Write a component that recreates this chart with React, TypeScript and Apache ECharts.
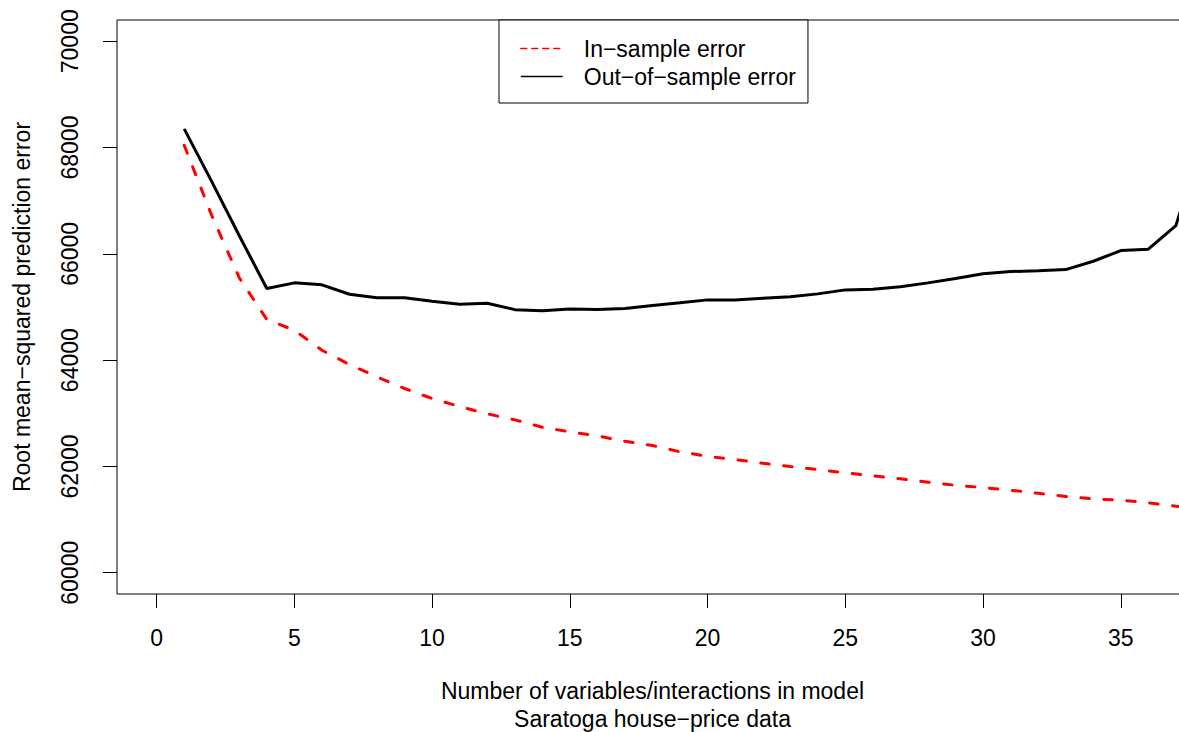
import React, { useEffect, useRef } from "react";
import * as echarts from "echarts";

const FONT = "'Liberation Sans', Arial, Helvetica, sans-serif";

const numVariables = [
  1, 2, 3, 4, 5, 6, 7, 8, 9, 10, 11, 12, 13, 14, 15, 16, 17, 18, 19, 20,
  21, 22, 23, 24, 25, 26, 27, 28, 29, 30, 31, 32, 33, 34, 35, 36, 37, 38,
];

const inSampleError = [
  68043, 66720, 65548, 64764, 64562, 64186, 63917, 63686, 63466, 63277,
  63127, 62990, 62877, 62738, 62651, 62575, 62474, 62393, 62275, 62192,
  62130, 62060, 61998, 61942, 61880, 61823, 61767, 61703, 61646, 61603,
  61552, 61496, 61434, 61390, 61364, 61315, 61251, 61200,
];

const outOfSampleError = [
  68352, 67360, 66340, 65347, 65454, 65417, 65240, 65172, 65172, 65108,
  65052, 65071, 64950, 64930, 64962, 64952, 64971, 65027, 65078, 65134,
  65134, 65164, 65191, 65247, 65322, 65335, 65379, 65454, 65535, 65624,
  65667, 65680, 65704, 65861, 66062, 66087, 66532, 68200,
];

const xTicks = [0, 5, 10, 15, 20, 25, 30, 35];
const yTicks = [60000, 62000, 64000, 66000, 68000, 70000];

const seriesNames = ["In\u2212sample error", "Out\u2212of\u2212sample error"];
const xAxisTitle = "Number of variables/interactions in model";
const subTitle = "Saratoga house\u2212price data";
const yAxisTitle = "Root mean\u2212squared prediction error";

export default function App() {
  const ref = useRef<HTMLDivElement | null>(null);

  useEffect(() => {
    if (!ref.current) return;
    const chart = echarts.init(ref.current, null, { renderer: "svg" });
    const inData = numVariables.map((x, i) => [x, inSampleError[i]]);
    const outData = numVariables.map((x, i) => [x, outOfSampleError[i]]);

    chart.setOption({
      animation: false,
      backgroundColor: "#fff",
      textStyle: { fontFamily: FONT, color: "#000" },
      title: {
        text: subTitle,
        left: 652.5,
        textAlign: "center",
        top: 707.5,
        padding: 0,
        textStyle: {
          fontFamily: FONT,
          fontSize: 23,
          lineHeight: 22,
          fontWeight: "normal",
          color: "#000",
        },
      },
      grid: {
        show: true,
        left: 117,
        top: 20,
        width: 1071,
        height: 574,
        outerBoundsMode: "none",
        containLabel: false,
        borderColor: "#000",
        borderWidth: 1,
        backgroundColor: "transparent",
      },
      legend: {
        show: true,
        selectedMode: false,
        orient: "vertical",
        left: 499,
        top: 20,
        borderColor: "#000",
        borderWidth: 1,
        backgroundColor: "#fff",
        padding: [17, 12, 15, 21],
        itemWidth: 42,
        itemHeight: 14,
        itemGap: 5,
        textStyle: {
          fontFamily: FONT,
          fontSize: 23,
          lineHeight: 23,
          color: "#000",
          padding: [0, 0, 0, 16],
        },
        data: [
          {
            name: seriesNames[0],
            itemStyle: { opacity: 0 },
            lineStyle: { width: 1.5, type: [6, 5], color: "#ff0000" },
          },
          {
            name: seriesNames[1],
            itemStyle: { opacity: 0 },
            lineStyle: { width: 1.5, type: "solid", color: "#000" },
          },
        ],
      },
      xAxis: {
        type: "value",
        min: -1.44,
        max: 37.44,
        name: xAxisTitle,
        nameLocation: "middle",
        nameGap: 86,
        nameTextStyle: {
          fontFamily: FONT,
          fontSize: 23,
          lineHeight: 22,
          color: "#000",
          verticalAlign: "top",
        },
        axisLine: { show: false, onZero: false },
        axisTick: {
          show: true,
          inside: false,
          length: 14,
          lineStyle: { color: "#000", width: 1 },
          customValues: xTicks,
        },
        axisLabel: {
          show: true,
          margin: 32,
          fontFamily: FONT,
          fontSize: 23,
          color: "#000",
          customValues: xTicks,
          formatter: (v: number) => String(v),
        },
        splitLine: { show: false },
      },
      yAxis: {
        type: "value",
        min: 59600,
        max: 70400,
        name: yAxisTitle,
        nameLocation: "middle",
        nameGap: 84,
        nameTextStyle: {
          fontFamily: FONT,
          fontSize: 23,
          color: "#000",
        },
        axisLine: { show: false, onZero: false },
        axisTick: {
          show: true,
          inside: false,
          length: 14,
          lineStyle: { color: "#000", width: 1 },
          customValues: yTicks,
        },
        axisLabel: {
          show: true,
          rotate: 90,
          margin: 36,
          fontFamily: FONT,
          fontSize: 23,
          color: "#000",
          customValues: yTicks,
          formatter: (v: number) => String(v),
        },
        splitLine: { show: false },
      },
      series: [
        {
          name: seriesNames[0],
          type: "line",
          data: inData,
          symbol: "none",
          clip: true,
          lineStyle: { color: "#ff0000", width: 3, type: [8.5, 14.5], cap: "round" },
          itemStyle: { color: "#ff0000" },
          z: 2,
        },
        {
          name: seriesNames[1],
          type: "line",
          data: outData,
          symbol: "none",
          clip: true,
          lineStyle: { color: "#000", width: 3, type: "solid" },
          itemStyle: { color: "#000" },
          z: 3,
        },
      ],
    });

    return () => {
      chart.dispose();
    };
  }, []);

  return (
    <div
      ref={ref}
      style={{ position: "fixed", left: 0, top: 0, width: 1179, height: 732, background: "#fff" }}
    />
  );
}
